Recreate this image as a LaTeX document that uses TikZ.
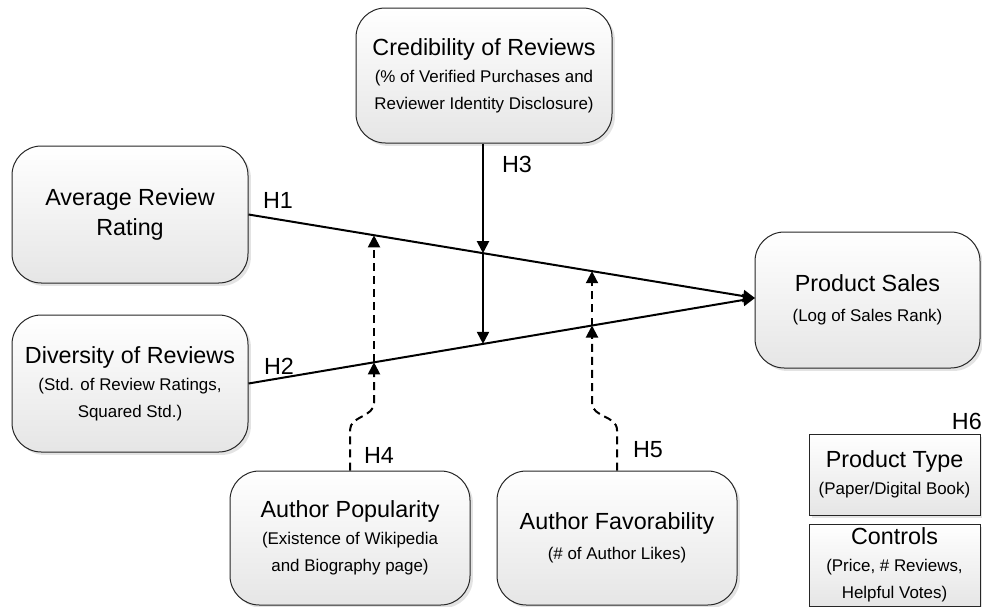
\documentclass[tikz,border=0pt]{standalone}
\usepackage{fontspec}
\setmainfont{Liberation Sans}
\usetikzlibrary{arrows.meta,shadows}
\newcommand{\tfont}{\fontsize{17.5}{20.25}\selectfont}
\newcommand{\sfont}{\fontsize{12.7}{20.25}\selectfont}
\begin{document}
\begin{tikzpicture}[x=0.75pt,y=-0.75pt,
  boxbase/.style={draw=black!85, line width=0.75pt, inner sep=0pt, align=center,
    font=\sfont, top color=white, bottom color=black!10,
    drop shadow={shadow xshift=2.2pt, shadow yshift=-2.2pt, fill=black!22}},
  rbox/.style={boxbase, rounded corners=22pt},
  sbox/.style={boxbase},
  link/.style={line width=1.5pt, -{Triangle[length=9pt,width=9pt]}},
  dlink/.style={link, dash pattern=on 6pt off 3.8pt},
  hlab/.style={font=\tfont, inner sep=0pt}]
\useasboundingbox (0,0) rectangle (982,607);

\node[rbox, minimum width=192pt, minimum height=101.25pt] (cred) at (484,75.5)
  {{\tfont Credibility of Reviews}\\(\% of Verified Purchases and\\Reviewer Identity Disclosure)};
\node[rbox, minimum width=177pt, minimum height=102.75pt] (avg) at (130,214.5)
  {{\tfont Average Review}\\[2pt]{\tfont Rating}};
\node[rbox, minimum width=177pt, minimum height=102.75pt] (div) at (130,383.5)
  {{\tfont Diversity of Reviews}\\(Std. of Review Ratings,\\Squared Std.)};
\node[rbox, minimum width=168.75pt, minimum height=102pt] (sales) at (867.5,300)
  {{\tfont Product Sales}\\[2pt](Log of Sales Rank)};
\node[rbox, minimum width=180pt, minimum height=100.5pt] (pop) at (350,538)
  {{\tfont Author Popularity}\\(Existence of Wikipedia\\and Biography page)};
\node[rbox, minimum width=180pt, minimum height=100.5pt] (fav) at (617,538)
  {{\tfont Author Favorability}\\[2pt](\# of Author Likes)};
\node[sbox, minimum width=128.25pt, minimum height=60.75pt] (ptype) at (894.5,474.5)
  {{\tfont Product Type}\\(Paper/Digital Book)};
\node[sbox, minimum width=128.25pt, minimum height=61.5pt] (ctrl) at (894.5,565)
  {{\tfont Controls}\\(Price, \# Reviews,\\Helpful Votes)};

\coordinate (T) at (755,298);
\coordinate (a1) at (374,235.3);
\coordinate (a2) at (374,362.3);
\coordinate (b1) at (483,253.2);
\coordinate (b2) at (483,343.9);
\coordinate (c1) at (592,271.2);
\coordinate (c2) at (592,325.5);
\coordinate (p1) at (350,430);
\coordinate (p2) at (374,403);
\coordinate (f1) at (617,430);
\coordinate (f2) at (592,403);

\draw[link] (avg.east) -- (T);
\draw[link] (div.east) -- (T);
\draw[link] (cred.south -| b1) -- (b1);
\draw[link] (b1) -- (b2);
\draw[dlink] (pop.north) -- (p1) to[out=90,in=-90] (p2) -- (a2);
\draw[dlink] (a2) -- (a1);
\draw[dlink] (fav.north) -- (f1) to[out=90,in=-90] (f2) -- (c2);
\draw[dlink] (c2) -- (c1);

\node[hlab] (h1) at (278,200) {H1};
\node[hlab] (h2) at (279,366) {H2};
\node[hlab] (h3) at (517,164) {H3};
\node[hlab] (h4) at (379,455) {H4};
\node[hlab] (h5) at (648,450) {H5};
\node[hlab, anchor=east] (h6) at (982,421) {H6};
\end{tikzpicture}
\end{document}
